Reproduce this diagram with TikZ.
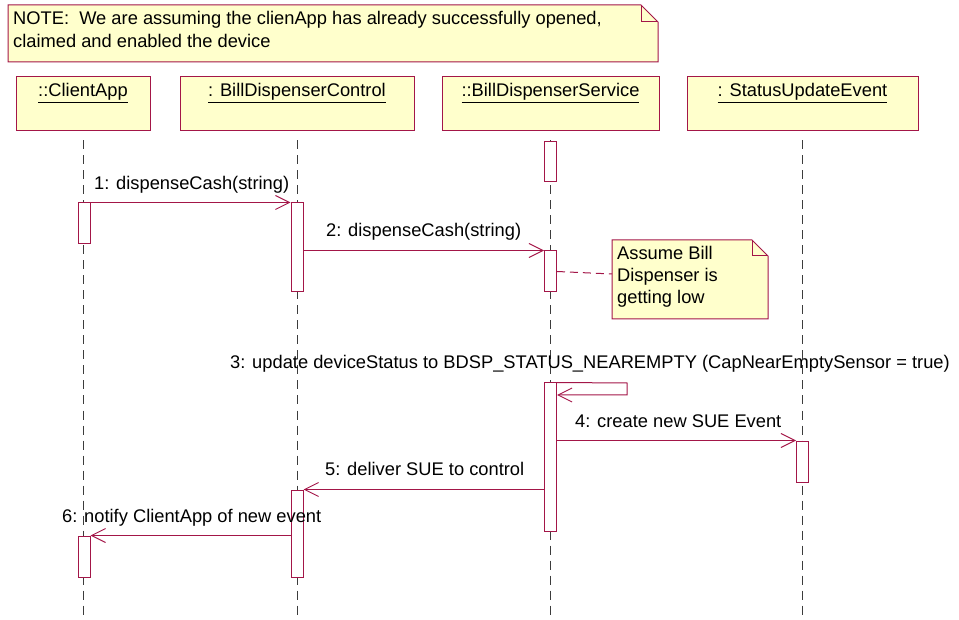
\documentclass[tikz,border=0pt]{standalone}
\usepackage{fontspec}
\setmainfont{Liberation Sans}
\usetikzlibrary{arrows.meta}
\definecolor{umlred}{RGB}{163,22,72}
\definecolor{noteyellow}{RGB}{255,255,204}
\definecolor{lifegray}{RGB}{60,60,60}
\begin{document}
\begin{tikzpicture}[x=1pt,y=-1pt,
  every node/.style={font=\fontsize{18.3}{22}\selectfont},
  header/.style={draw=umlred, line width=1pt, fill=noteyellow, minimum height=54pt, inner sep=0pt, text height=13pt, text depth=27pt},
  act/.style={draw=umlred, line width=1pt, fill=white, minimum width=12pt, inner sep=0pt},
  msg/.style={draw=umlred, line width=1pt, -{Straight Barb[length=14pt,width=14pt]}},
  lbl/.style={anchor=base west, inner sep=0pt},
  lifeline/.style={draw=lifegray, line width=0.9pt, dash pattern=on 9pt off 6pt},
  notebox/.style={draw=umlred, line width=1pt, fill=noteyellow},
  fold/.style={draw=umlred, line width=1pt},
  notelink/.style={draw=umlred, line width=1pt, dash pattern=on 8pt off 5pt},
]
\useasboundingbox (0,0) rectangle (959,620);
\coordinate (bottom) at (0,619);

% top note
\draw[notebox] (8,5) -- (641,5) -- (658,22) -- (658,62) -- (8,62) -- cycle;
\draw[fold] (641,5) -- (641,22) -- (658,22);
\node[lbl] (n1a) at (13,25) {NOTE:\ \ We are assuming the clienApp has already successfully opened,};
\node[lbl] (n1b) at (13,48) {claimed and enabled the device};

% headers
\node[header, minimum width=134pt] (hCA) at (83,104) {\underline{::ClientApp}};
\node[header, minimum width=234pt] (hBC) at (297,104) {\underline{: BillDispenserControl}};
\node[header, minimum width=217pt] (hBS) at (550.5,104) {\underline{::BillDispenserService}};
\node[header, minimum width=231pt] (hSE) at (802.5,104) {\underline{: StatusUpdateEvent}};

% lifelines
\draw[lifeline] ([yshift=-9pt]hCA.south) -- (hCA.south |- bottom);
\draw[lifeline] ([yshift=-9pt]hBC.south) -- (hBC.south |- bottom);
\draw[lifeline] ([yshift=-9pt]hBS.south) -- (hBS.south |- bottom);
\draw[lifeline] ([yshift=-9pt]hSE.south) -- (hSE.south |- bottom);

% activations
\node[act, minimum height=40pt]  (s0) at (550.5,162) {};
\node[act, minimum height=41pt]  (c1) at (84,223.5) {};
\node[act, minimum height=89pt]  (b1) at (297,247.5) {};
\node[act, minimum height=41pt]  (s1) at (550.5,271.5) {};
\node[act, minimum height=148pt] (s2) at (550.5,457) {};
\node[act, minimum height=41pt]  (e1) at (802.5,461.5) {};
\node[act, minimum height=87pt]  (b2) at (297,533.5) {};
\node[act, minimum height=41pt]  (c2) at (84,556.5) {};

% messages
\draw[msg] (c1.north east) -- (b1.north west);
\draw[msg] (b1.east |- s1.north) -- (s1.north west);
\coordinate (selfA) at (627,383);
\coordinate (selfB) at (627,395);
\draw[msg] (s2.north east) -- (selfA) -- (selfB) -- (selfB -| s2.east);
\draw[msg] (s2.east |- e1.north) -- (e1.north west);
\draw[msg] (s2.west |- b2.north) -- (b2.north east);
\draw[msg] (b2.west |- c2.north) -- (c2.north east);

% labels
\node[lbl] (l1) at (94,190) {1: dispenseCash(string)};
\node[lbl] (l2) at (326,237) {2: dispenseCash(string)};
\node[lbl] (l3) at (230,369) {3: update deviceStatus to BDSP\_STATUS\_NEAREMPTY (CapNearEmptySensor = true)};
\node[lbl] (l4) at (575,427) {4: create new SUE Event};
\node[lbl] (l5) at (325,475) {5: deliver SUE to control};
\node[lbl] (l6) at (62,522) {6: notify ClientApp of new event};

% side note
\draw[notebox] (612,240) -- (752,240) -- (768,256) -- (768,319) -- (612,319) -- cycle;
\draw[fold] (752,240) -- (752,256) -- (768,256);
\node[lbl] (n2a) at (617,260) {Assume Bill};
\node[lbl] (n2b) at (617,282) {Dispenser is};
\node[lbl] (n2c) at (617,304) {getting low};
\coordinate (n2l) at (612,274);
\draw[notelink] (s1.east) -- (n2l);
\end{tikzpicture}
\end{document}
